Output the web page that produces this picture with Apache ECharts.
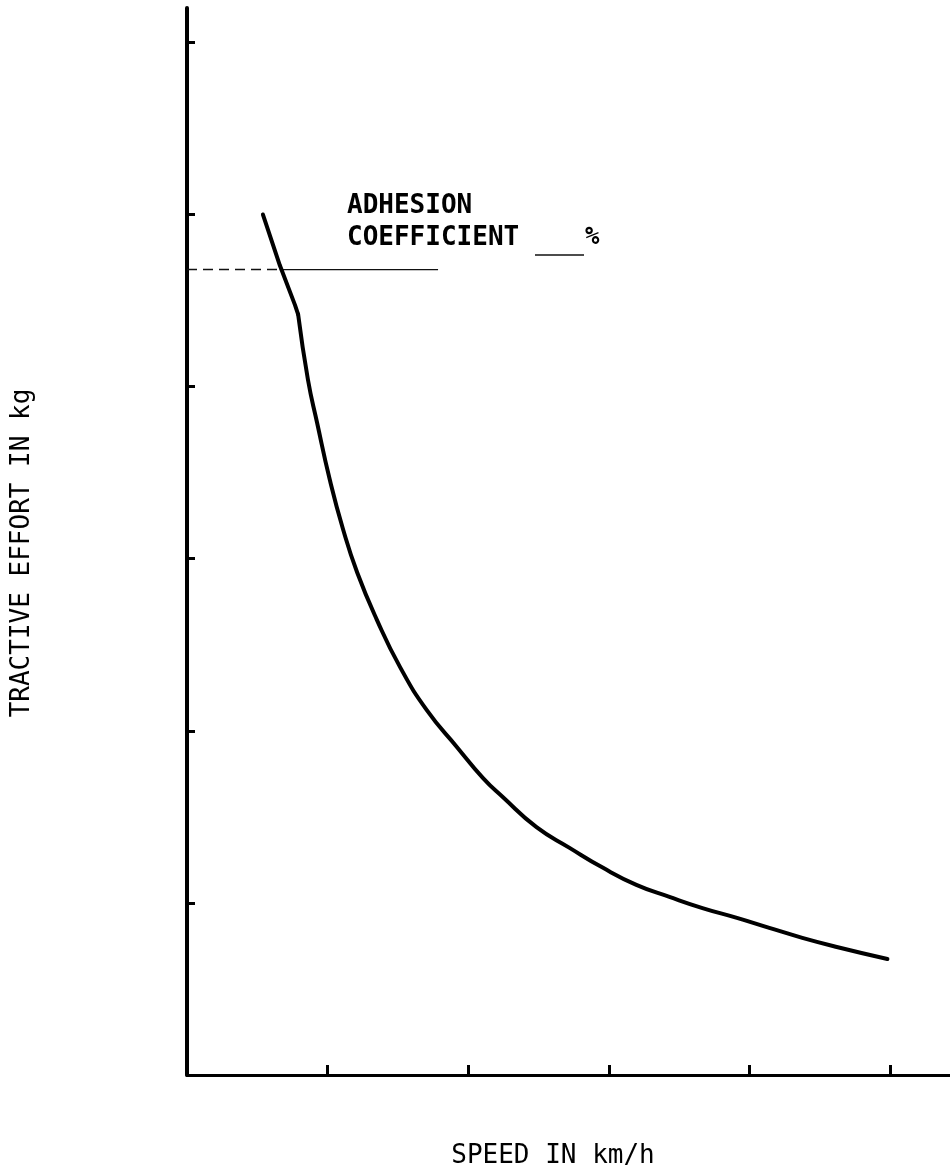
<!DOCTYPE html>
<html>
<head>
<meta charset="utf-8">
<script src="https://cdn.jsdelivr.net/npm/echarts@6/dist/echarts.min.js"></script>
<style>
  html, body { margin: 0; padding: 0; background: #ffffff; }
  #chart { width: 950px; height: 1173px; }
</style>
</head>
<body>
<div id="chart"></div>
<script>
// Speed (arbitrary units, ticks every 20) and tractive effort (ticks every 1000)
const speeds  = [10.8, 13.2, 15.35, 15.8, 17.2, 18.5, 20.3, 22.2, 24.2, 27.0, 30.3, 34.1, 38.4, 42.1, 44.9, 49.7, 54.4, 59.1, 63.9, 68.6, 73.3, 78.2, 82.8, 87.5, 92.4, 99.6];
const efforts = [5000, 4705, 4475, 4420, 4040, 3790, 3460, 3170, 2920, 2645, 2370, 2120, 1905, 1725, 1615, 1440, 1320, 1205, 1105, 1035, 970, 913, 855, 797, 744, 674];
// index where the steep straight start meets the hyperbolic part (the kink)
const kinkIndex = 3;

const xTicks = [20, 40, 60, 80, 100];
const yTicks = [1000, 2000, 3000, 4000, 5000, 6000];

const adhesionLevel = 4680;
const adhesionDashEnd = 13.2;
const adhesionLineEnd = 35.7;

const xTitle = 'SPEED IN km/h';
const yTitle = 'TRACTIVE EFFORT IN kg';
const noteLine1 = 'ADHESION';
const noteLine2 = 'COEFFICIENT';
const notePct = '%';

const curve = speeds.map((s, i) => [s, efforts[i]]);
const startPart = curve.slice(0, kinkIndex + 1);
const mainPart = curve.slice(kinkIndex);

const chart = echarts.init(document.getElementById('chart'), null, { renderer: 'canvas' });
const FONT = '"DejaVu Sans Mono", "Liberation Mono", monospace';

chart.setOption({
  backgroundColor: '#ffffff',
  animation: false,
  grid: { left: 187, right: 0, top: 8, bottom: 98, containLabel: false },
  xAxis: {
    type: 'value', min: 0, max: 108.5,
    axisLine: { show: true, onZero: false, lineStyle: { color: '#000', width: 3 } },
    axisTick: { show: true, inside: true, length: 10, customValues: xTicks, lineStyle: { color: '#000', width: 3 } },
    axisLabel: { show: false },
    splitLine: { show: false }
  },
  yAxis: {
    type: 'value', min: 0, max: 6200,
    axisLine: { show: true, onZero: false, lineStyle: { color: '#000', width: 4 } },
    axisTick: { show: true, inside: true, length: 8, customValues: yTicks, lineStyle: { color: '#000', width: 3 } },
    axisLabel: { show: false },
    splitLine: { show: false }
  },
  series: [
    {
      name: 'Tractive effort (start)',
      type: 'line',
      data: startPart,
      smooth: false,
      symbol: 'none',
      lineStyle: { color: '#000', width: 4, cap: 'round', join: 'round' },
      z: 5
    },
    {
      name: 'Tractive effort',
      type: 'line',
      data: mainPart,
      smooth: 0.5,
      symbol: 'none',
      lineStyle: { color: '#000', width: 4, cap: 'round', join: 'round' },
      z: 5
    },
    {
      name: 'Adhesion dashed',
      type: 'line',
      data: [[0, adhesionLevel], [adhesionDashEnd, adhesionLevel]],
      symbol: 'none',
      lineStyle: { color: '#111', width: 1.5, type: [10, 6] },
      z: 3
    },
    {
      name: 'Adhesion solid',
      type: 'line',
      data: [[adhesionDashEnd, adhesionLevel], [adhesionLineEnd, adhesionLevel]],
      symbol: 'none',
      lineStyle: { color: '#111', width: 1.3 },
      z: 3
    }
  ],
  graphic: [
    { type: 'text', style: { x: 347, y: 206, text: noteLine1, font: 'bold 26px ' + FONT, fill: '#000', textAlign: 'left', textVerticalAlign: 'middle' } },
    { type: 'text', style: { x: 347, y: 238, text: noteLine2, font: 'bold 26px ' + FONT, fill: '#000', textAlign: 'left', textVerticalAlign: 'middle' } },
    { type: 'line', shape: { x1: 535, y1: 255, x2: 584, y2: 255 }, style: { stroke: '#111', lineWidth: 1.3 } },
    { type: 'text', style: { x: 585, y: 238, text: notePct, font: 'bold 24px ' + FONT, fill: '#000', textAlign: 'left', textVerticalAlign: 'middle' } },
    { type: 'text', style: { x: 553, y: 1156, text: xTitle, font: '26px ' + FONT, fill: '#000', textAlign: 'center', textVerticalAlign: 'middle' } },
    { type: 'text', x: 22, y: 553, rotation: Math.PI / 2, style: { x: 0, y: 0, text: yTitle, font: '26px ' + FONT, fill: '#000', textAlign: 'center', textVerticalAlign: 'middle' } }
  ]
});
</script>
</body>
</html>
